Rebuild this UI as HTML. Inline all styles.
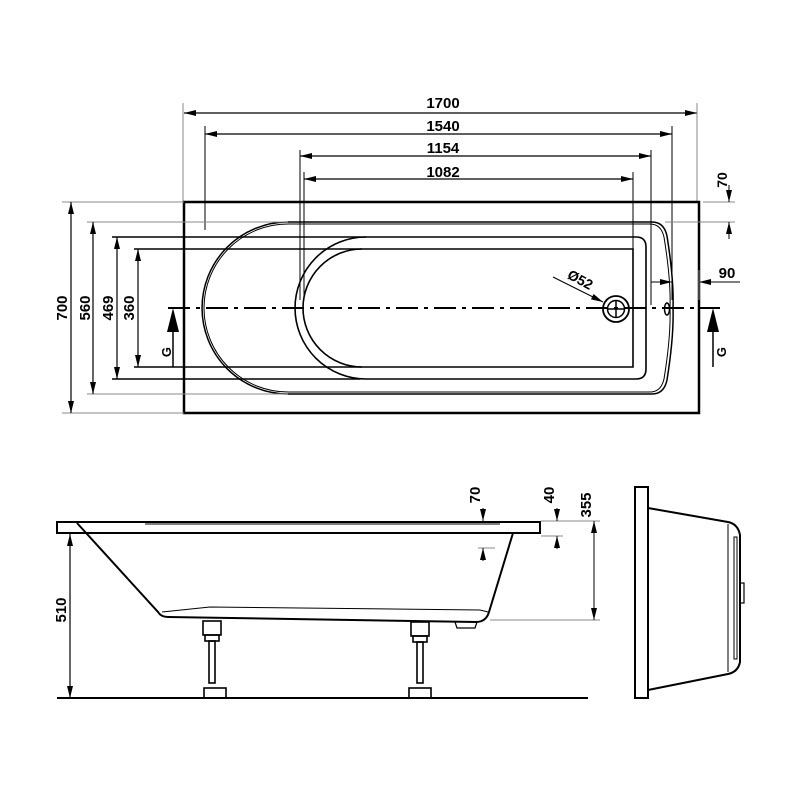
<!DOCTYPE html>
<html><head><style>html,body{margin:0;padding:0;background:#fff}svg{display:block}</style></head>
<body>
<svg width="800" height="800" viewBox="0 0 800 800" xmlns="http://www.w3.org/2000/svg" font-family="Liberation Sans, sans-serif">
<defs>
<marker id="a" viewBox="0 0 12 6" refX="12" refY="3" markerWidth="12" markerHeight="6" orient="auto-start-reverse" markerUnits="userSpaceOnUse"><path d="M0,0 L12,3 L0,6 z" fill="#000"/></marker>
</defs>
<g stroke="#000" fill="none">
<!-- top dims -->
<g stroke-width="1.2">
<line x1="184" y1="113" x2="697" y2="113" marker-start="url(#a)" marker-end="url(#a)"/>
<line x1="205" y1="134" x2="672" y2="134" marker-start="url(#a)" marker-end="url(#a)"/>
<line x1="300" y1="156" x2="651" y2="156" marker-start="url(#a)" marker-end="url(#a)"/>
<line x1="304" y1="179" x2="633" y2="179" marker-start="url(#a)" marker-end="url(#a)"/>
</g>
<g stroke-width="1">
<line x1="183" y1="103" x2="183" y2="202" stroke="#888"/>
<line x1="697" y1="103" x2="697" y2="202" stroke="#888"/>
<line x1="205" y1="126" x2="205" y2="230"/>
<line x1="672" y1="126" x2="672" y2="300"/>
<line x1="300" y1="150" x2="300" y2="300"/>
<line x1="304" y1="172" x2="304" y2="300"/>
<line x1="651" y1="150" x2="651" y2="305"/>
<line x1="633" y1="172" x2="633" y2="270"/>
</g>
<!-- outer rect -->
<rect x="184" y="202" width="515" height="211" stroke-width="2.5"/>
<!-- rim -->
<path d="M288,222 L652,222 Q664,222 667,236 Q674,280 673,308 Q674,336 667,380 Q664,394 652,394 L288,394 A86,86 0 0 1 288,222 Z" stroke-width="1.5"/>
<path d="M288,224 L650,224 Q661,224 664,237 Q671,280 670,308 Q671,336 664,379 Q661,392 650,392 L288,392 A84,84 0 0 1 288,224 Z" stroke-width="1"/>
<!-- bowl -->
<path d="M366,237 L636,237 Q646,237 646,247 L646,369 Q646,379 636,379 L366,379 A71,71 0 0 1 366,237 Z" stroke-width="1.6"/>
<path d="M362,249 L633,249 L633,367 L362,367 A59,59 0 0 1 362,249 Z" stroke-width="1.6"/>
<!-- left dim lines -->
<g stroke-width="1">
<line x1="62" y1="202" x2="184" y2="202" stroke="#888"/>
<line x1="62" y1="413" x2="184" y2="413" stroke="#888"/>
<line x1="87" y1="222" x2="288" y2="222" stroke="#888"/>
<line x1="87" y1="394" x2="288" y2="394" stroke="#888"/>
<line x1="112" y1="237" x2="366" y2="237" stroke-width="1.5"/>
<line x1="112" y1="379" x2="360" y2="379" stroke-width="1.5"/>
<line x1="134" y1="249" x2="362" y2="249" stroke-width="1.5"/>
<line x1="134" y1="367" x2="362" y2="367" stroke-width="1.5"/>
</g>
<g stroke-width="1.2">
<line x1="71" y1="202" x2="71" y2="413" marker-start="url(#a)" marker-end="url(#a)"/>
<line x1="93" y1="222" x2="93" y2="394" marker-start="url(#a)" marker-end="url(#a)"/>
<line x1="117" y1="237" x2="117" y2="379" marker-start="url(#a)" marker-end="url(#a)"/>
<line x1="138" y1="249" x2="138" y2="367" marker-start="url(#a)" marker-end="url(#a)"/>
</g>
<!-- centerline -->
<line x1="168" y1="308" x2="720" y2="308" stroke-width="2" stroke-dasharray="22,6,4,6"/>
<!-- G arrows -->
<line x1="173" y1="367" x2="173" y2="325" stroke-width="1.5"/>
<path d="M167,332 L173,308 L179,332 Z" fill="#000" stroke="none"/>
<line x1="713" y1="367" x2="713" y2="325" stroke-width="1.5"/>
<path d="M707,332 L713,308 L719,332 Z" fill="#000" stroke="none"/>
<!-- drain -->
<circle cx="616" cy="309" r="13" stroke-width="1.8"/>
<circle cx="616" cy="309" r="8.5" stroke-width="1.5"/>
<line x1="607" y1="309" x2="625" y2="309" stroke-width="1.5"/>
<line x1="616" y1="300" x2="616" y2="318" stroke-width="1.5"/>
<line x1="553" y1="277" x2="603" y2="302" stroke-width="1" marker-end="url(#a)"/>
<ellipse cx="667" cy="309" rx="2.5" ry="6" stroke-width="1.5"/>
<!-- 70 right -->
<line x1="703" y1="202" x2="735" y2="202" stroke="#888" stroke-width="1"/>
<line x1="665" y1="222" x2="735" y2="222" stroke="#888" stroke-width="1"/>
<line x1="729" y1="185" x2="729" y2="202" marker-end="url(#a)" stroke-width="1"/>
<line x1="729" y1="239" x2="729" y2="222" marker-end="url(#a)" stroke-width="1"/>
<!-- 90 -->
<line x1="651" y1="282" x2="672" y2="282" marker-end="url(#a)" stroke-width="1"/>
<line x1="740" y1="282" x2="699" y2="282" marker-end="url(#a)" stroke-width="1"/>
<line x1="699" y1="270" x2="699" y2="300" stroke-width="1" stroke="#888"/>

<!-- side view -->
<rect x="57" y="522" width="483" height="11" stroke-width="2"/>
<line x1="145" y1="524" x2="500" y2="524" stroke-width="1"/>
<path d="M77,523 L158,612 Q161,617 168,617 L476,622 Q486,622 489,612 L513,533" stroke-width="2"/>
<path d="M162,612 L210,607 L480,610 L488,612" stroke-width="1"/>
<path d="M455,622 L457,628 L475,628 L477,622" stroke-width="1.2"/>
<line x1="57" y1="698" x2="588" y2="698" stroke-width="2"/>
<!-- legs -->
<g stroke-width="1.6">
<rect x="203" y="621" width="18" height="14"/>
<rect x="205" y="635" width="14" height="6"/>
<rect x="209" y="641" width="6" height="42"/>
<rect x="204" y="688" width="22" height="10"/>
<rect x="411" y="622" width="18" height="14"/>
<rect x="413" y="636" width="14" height="6"/>
<rect x="417" y="642" width="6" height="41"/>
<rect x="409" y="688" width="22" height="10"/>
</g>
<line x1="70" y1="534" x2="70" y2="698" stroke-width="1.2" marker-start="url(#a)" marker-end="url(#a)"/>
<line x1="541" y1="521" x2="600" y2="521" stroke="#888" stroke-width="1"/>
<line x1="541" y1="536" x2="563" y2="536" stroke="#888" stroke-width="1"/>
<line x1="478" y1="548" x2="495" y2="548" stroke="#888" stroke-width="1"/>
<line x1="490" y1="620" x2="600" y2="620" stroke="#888" stroke-width="1"/>
<line x1="483" y1="508" x2="483" y2="521" stroke-width="1" marker-end="url(#a)"/>
<line x1="483" y1="561" x2="483" y2="548" stroke-width="1" marker-end="url(#a)"/>
<line x1="557" y1="508" x2="557" y2="521" stroke-width="1" marker-end="url(#a)"/>
<line x1="557" y1="549" x2="557" y2="536" stroke-width="1" marker-end="url(#a)"/>
<line x1="594" y1="521" x2="594" y2="620" stroke-width="1" marker-start="url(#a)" marker-end="url(#a)"/>

<!-- end view -->
<rect x="635" y="487" width="13" height="211" stroke-width="2"/>
<path d="M648,508 L728,522 Q738,524 740,535 L740,662 Q738,672 728,674 L648,690" stroke-width="2"/>
<line x1="728" y1="524" x2="728" y2="672" stroke-width="1"/>
<rect x="734" y="537" width="3" height="122" stroke-width="1"/>
<rect x="740" y="583" width="4" height="20" stroke-width="1.2"/>
</g>
<g font-size="15" font-weight="bold" fill="#000" text-anchor="middle">
<text x="443" y="108">1700</text>
<text x="443" y="131">1540</text>
<text x="443" y="153">1154</text>
<text x="443" y="177">1082</text>
<text transform="translate(67,308) rotate(-90)">700</text>
<text transform="translate(90,308) rotate(-90)">560</text>
<text transform="translate(113,308) rotate(-90)">469</text>
<text transform="translate(134,308) rotate(-90)">360</text>
<text transform="translate(727,180) rotate(-90)" font-size="14">70</text>
<text x="727" y="278">90</text>
<text transform="translate(578,284) rotate(28)" font-size="14">Ø52</text>
<text transform="translate(171,352) rotate(-90)" font-size="13">G</text>
<text transform="translate(726,352) rotate(-90)" font-size="13">G</text>
<text transform="translate(66,610) rotate(-90)">510</text>
<text transform="translate(480,495) rotate(-90)">70</text>
<text transform="translate(554,495) rotate(-90)">40</text>
<text transform="translate(591,505) rotate(-90)">355</text>
</g>
</svg>
</body></html>
